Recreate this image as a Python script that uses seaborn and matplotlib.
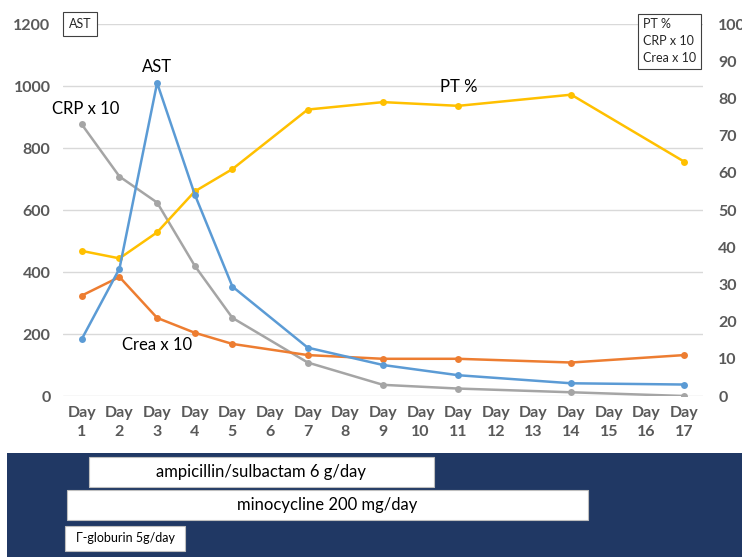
import matplotlib
matplotlib.use("Agg")
import matplotlib.pyplot as plt
import matplotlib.patches as mpatches
import seaborn as sns
import pandas as pd

# measured days and lab values
days = [1, 2, 3, 4, 5, 7, 9, 11, 14, 17]
ast = [184, 411, 1010, 650, 353, 156, 100, 67, 41, 37]
pt_pct = [39, 37, 44, 55, 61, 77, 79, 78, 81, 63]
crp_x10 = [73, 59, 52, 35, 21, 9, 3, 2, 1, 0]
crea_x10 = [27, 32, 21, 17, 14, 11, 10, 10, 9, 11]

day_labels = [f"Day\n{d}" for d in range(1, 18)]
left_ticks = [0, 200, 400, 600, 800, 1000, 1200]
right_ticks = [0, 10, 20, 30, 40, 50, 60, 70, 80, 90, 100]

# treatments (start / end in day units)
drugs = ["ampicillin/sulbactam 6 g/day", "minocycline 200 mg/day", "\u0393-globurin 5g/day"]
drug_start = [1.19, 0.61, 0.55]
drug_end = [10.35, 14.45, 3.75]

sns.set_style("white")
plt.rcParams['font.family'] = ['Lato', 'DejaVu Sans']

W, H = 742, 557
fig = plt.figure(figsize=(W / 100, H / 100), dpi=100)

def fx(px):
    return px / W

def fy(py):
    return 1 - py / H

ax = fig.add_axes([fx(63), fy(396), fx(703) - fx(63), fy(24) - fy(396)])
axr = ax.twinx()

df = pd.DataFrame({'day': days, 'AST': ast, 'PT': pt_pct, 'CRP': crp_x10, 'Crea': crea_x10})

sns.lineplot(data=df, x='day', y='CRP', ax=axr, color='#A5A5A5', marker='o',
             markersize=5, markeredgewidth=0, linewidth=1.8)
sns.lineplot(data=df, x='day', y='Crea', ax=axr, color='#ED7D31', marker='o',
             markersize=5, markeredgewidth=0, linewidth=1.8)
sns.lineplot(data=df, x='day', y='PT', ax=axr, color='#FFC000', marker='o',
             markersize=5, markeredgewidth=0, linewidth=1.8)
sns.lineplot(data=df, x='day', y='AST', ax=axr, color='#5B9BD5', marker='o',
             markersize=5, markeredgewidth=0, linewidth=1.8,
             transform=ax.transData)

ax.set_xlim(0.5, 17.5)
ax.set_ylim(0, 1200)
axr.set_ylim(0, 100)
ax.set_xticks(range(1, 18))
ax.set_xticklabels(day_labels)
ax.set_yticks(left_ticks)
axr.set_yticks(right_ticks)
ax.yaxis.grid(True, color='#D9D9D9', linewidth=1)
ax.set_xlabel('')
ax.set_ylabel('')
axr.set_xlabel('')
axr.set_ylabel('')
for a in (ax, axr):
    for s in a.spines.values():
        s.set_visible(False)
ax.tick_params(axis='y', length=0, pad=9, labelsize=11.5, labelcolor='#595959')
ax.tick_params(axis='x', length=0, pad=7, labelsize=11.5, labelcolor='#595959')
axr.tick_params(axis='y', length=0, pad=11, labelsize=11.5, labelcolor='#595959')
for lab in ax.get_xticklabels() + ax.get_yticklabels() + axr.get_yticklabels():
    lab.set_fontweight('bold')
    lab.set_linespacing(1.45)

# series labels
ax.text(3, 1061, "AST", ha='center', va='center', fontsize=12, color='#000000')
ax.text(1.1, 926, "CRP x 10", ha='center', va='center', fontsize=12, color='#000000')
ax.text(11, 997, "PT %", ha='center', va='center', fontsize=12, color='#000000')
ax.text(3.0, 165, "Crea x 10", ha='center', va='center', fontsize=12, color='#000000')

# axis boxes
fig.text(fx(80), fy(24), "AST", ha='center', va='center', fontsize=9,
         bbox=dict(boxstyle='square,pad=0.45', fc='white', ec='#404040', lw=0.8))
fig.text(fx(643), fy(41), "PT %\nCRP x 10\nCrea x 10", ha='left', va='center',
         fontsize=9, linespacing=1.45,
         bbox=dict(boxstyle='square,pad=0.4', fc='white', ec='#404040', lw=0.8))

# treatment panel
fig.patches.append(mpatches.Rectangle((fx(7), 0), 1 - fx(7), fy(453), transform=fig.transFigure,
                                      facecolor='#203864', edgecolor='none', zorder=-1))
axt = fig.add_axes([fx(63), fy(555), fx(703) - fx(63), fy(455) - fy(555)])
axt.set_zorder(5)
axt.set_facecolor('none')
axt.set_xlim(0.5, 17.5)
axt.set_ylim(2.5, -0.5)
heights = [0.9, 0.88, 0.76]
sizes = [12, 12, 9]
for i, name in enumerate(drugs):
    axt.barh(i, drug_end[i] - drug_start[i], left=drug_start[i], height=heights[i],
             color='white', edgecolor='#BFBFBF', linewidth=0.8)
    axt.text((drug_start[i] + drug_end[i]) / 2, i, name, ha='center', va='center',
             fontsize=sizes[i], color='#000000')
axt.axis('off')

plt.savefig('out.png', dpi=100)
